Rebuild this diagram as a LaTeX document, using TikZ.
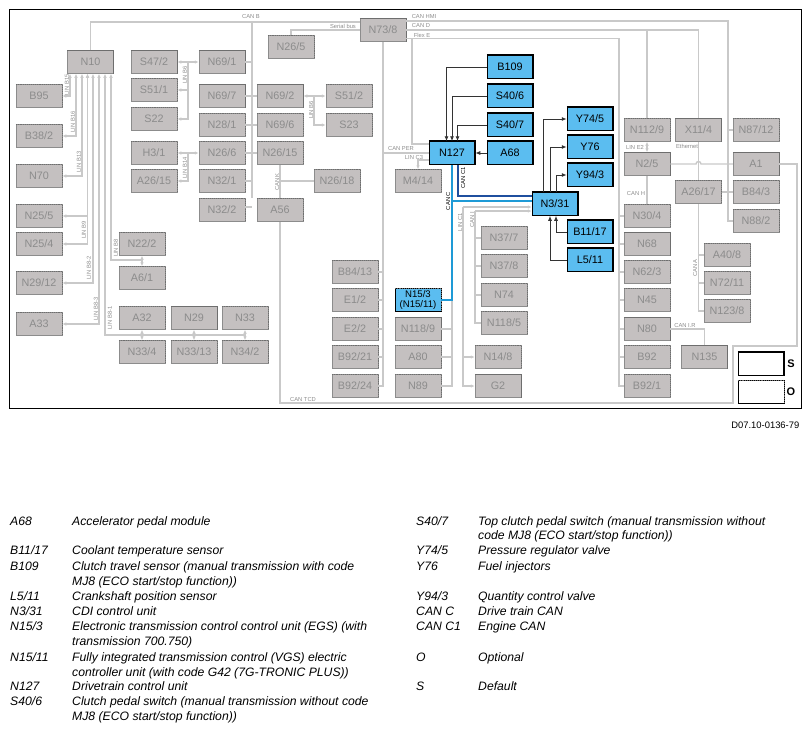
\documentclass[tikz,border=0pt]{standalone}
\usepackage{fontspec}
\setmainfont{Liberation Sans}
\usetikzlibrary{arrows.meta,positioning,calc}
\definecolor{boxgray}{HTML}{C4C0C0}
\definecolor{linegray}{HTML}{C9C9C9}
\definecolor{textgray}{HTML}{8C8C8C}
\definecolor{edgegray}{HTML}{6E6E6E}
\definecolor{busblue}{HTML}{1E9AD6}
\definecolor{busnavy}{HTML}{1F4F9E}
\definecolor{boxblue}{HTML}{5BBDF0}
\tikzset{
  gbox/.style={fill=boxgray,draw=textgray,line width=.5pt,text=textgray,minimum width=46pt,minimum height=23pt,inner sep=0pt,font=\fontsize{10.8}{9}\selectfont,align=center},
  bbox/.style={gbox,fill=boxblue,draw=black,text=black},
  wbox/.style={gbox,fill=white,draw=black},
  solidedge/.style={draw=edgegray,line width=1.3pt},
  blackedge/.style={draw=black,line width=1.6pt},
  dotedge/.style={draw=edgegray,line width=.9pt,densely dotted},
  gline/.style={draw=linegray,line width=1.4pt},
  garrow/.style={gline,-{Latex[length=4pt,width=3.5pt]}},
  gboth/.style={gline,{Latex[length=4pt,width=3.5pt]}-{Latex[length=4pt,width=3.5pt]}},
  kline/.style={draw=black!80,line width=.9pt,-{Latex[length=5pt,width=4pt]}},
  buslabel/.style={text=textgray,inner sep=0pt,font=\fontsize{5.8}{6}\selectfont},
  kbuslabel/.style={buslabel,text=black},
  legtext/.style={anchor=base west,inner sep=0pt,font=\fontsize{12.2}{13}\itshape\selectfont},
}
\begin{document}
\begin{tikzpicture}[x=1pt,y=-1pt]
\useasboundingbox (0,0) rectangle (811,731);
\draw[black,line width=1pt] (9.5,9.5) rectangle (801.5,408);
% left column
\node[gbox] (B95) at (39,96){B95};\node[gbox] (B38-2) at (39,136){B38/2};\node[gbox] (N70) at (39,176){N70};
\node[gbox] (N25-5) at (39,216){N25/5};\node[gbox] (N25-4) at (39,244){N25/4};
\node[gbox] (N29-12) at (39,283){N29/12};\node[gbox] (A33) at (39,324){A33};
\node[gbox] (N10) at (90.5,62){N10};
\node[gbox] (N22-2) at (142,244){N22/2};\node[gbox] (A6-1) at (142,278){A6/1};
\node[gbox] (A32) at (142,318){A32};\node[gbox] (N29) at (194,318){N29};\node[gbox] (N33) at (245,318){N33};
\node[gbox] (N33-4) at (142,352){N33/4};\node[gbox] (N33-13) at (194,352){N33/13};\node[gbox] (N34-2) at (245,352){N34/2};
% upper middle
\node[gbox] (S47-2) at (154,62){S47/2};\node[gbox] (S51-1) at (154,90){S51/1};\node[gbox] (S22) at (154,119){S22};
\node[gbox] (H3-1) at (154,153){H3/1};\node[gbox] (A26-15) at (154,181){A26/15};
\node[gbox] (N69-1) at (222,62){N69/1};\node[gbox] (N69-7) at (222,96){N69/7};\node[gbox] (N28-1) at (222,125){N28/1};
\node[gbox] (N26-6) at (222,153){N26/6};\node[gbox] (N32-1) at (222,181){N32/1};\node[gbox] (N32-2) at (222,210){N32/2};
\node[gbox] (N69-2) at (280,96){N69/2};\node[gbox] (N69-6) at (280,125){N69/6};\node[gbox] (N26-15) at (280,153){N26/15};
\node[gbox] (A56) at (280,210){A56};\node[gbox] (N26-5) at (291,47){N26/5};\node[gbox] (N73-8) at (383,30){N73/8};
\node[gbox] (S51-2) at (349,96){S51/2};\node[gbox] (S23) at (349,125){S23};\node[gbox] (N26-18) at (337,181){N26/18};
\node[gbox] (M4-14) at (418,181){M4/14};
\node[gbox] (B84-13) at (355,272){B84/13};\node[gbox] (E1-2) at (355,300){E1/2};\node[gbox] (E2-2) at (355,329){E2/2};
\node[gbox] (B92-21) at (355,357){B92/21};\node[gbox] (B92-24) at (355,386){B92/24};
\node[gbox] (N118-9) at (418,329){N118/9};\node[gbox] (A80) at (418,357){A80};\node[gbox] (N89) at (418,386){N89};
\node[gbox] (N37-7) at (504,238){N37/7};\node[gbox] (N37-8) at (504,266){N37/8};\node[gbox] (N74) at (504,295){N74};
\node[gbox] (N118-5) at (504,323){N118/5};\node[gbox] (N14-8) at (498,357){N14/8};\node[gbox] (G2) at (498,386){G2};
% right part
\node[gbox] (N112-9) at (647,130){N112/9};\node[gbox] (X11-4) at (698.5,130){X11/4};\node[gbox] (N87-12) at (756,130){N87/12};
\node[gbox] (N2-5) at (647,164){N2/5};\node[gbox] (A1) at (756,164){A1};
\node[gbox] (A26-17) at (698.5,192){A26/17};\node[gbox] (B84-3) at (756,192){B84/3};\node[gbox] (N88-2) at (756,221){N88/2};
\node[gbox] (N30-4) at (647,216){N30/4};\node[gbox] (N68) at (647,244){N68};\node[gbox] (N62-3) at (647,272){N62/3};
\node[gbox] (N45) at (647,300){N45};\node[gbox] (N80) at (647,329){N80};\node[gbox] (B92) at (647,357){B92};\node[gbox] (B92-1) at (647,386){B92/1};
\node[gbox] (A40-8) at (727,255){A40/8};\node[gbox] (N72-11) at (727,283){N72/11};\node[gbox] (N123-8) at (727,311){N123/8};
\node[gbox] (N135) at (704.5,357){N135};
% highlighted units
\node[bbox] (N127) at (452,153){N127};\node[bbox] (B109) at (510,67){B109};\node[bbox] (S40-6) at (510,96){S40/6};
\node[bbox] (S40-7) at (510,125){S40/7};\node[bbox] (A68) at (510,153){A68};
\node[bbox] (Y74-5) at (590,119){Y74/5};\node[bbox] (Y76) at (590,147){Y76};\node[bbox] (Y94-3) at (590,175){Y94/3};
\node[bbox] (N3-31) at (555,204){N3/31};\node[bbox] (B11-17) at (590,232){B11/17};\node[bbox] (L5-11) at (590,260){L5/11};
\node[bbox,font=\fontsize{9.6}{9.8}\selectfont] (N15-3) at (418,300){N15/3\\(N15/11)};
% key
\node[wbox] (keyS) at (761,364){};\node[wbox] (keyO) at (761,392){};
\node[inner sep=0pt,font=\fontsize{11}{12}\bfseries\selectfont] (keySt) at (791,364){S};
\node[inner sep=0pt,font=\fontsize{11}{12}\bfseries\selectfont] (keyOt) at (791,392){O};
\foreach \nd in {N10,S47-2,N69-1,N69-7,N69-2,N29,N73-8,N118-9,G2,N68,N2-5,A1,N80,X11-4,N135}
  \draw[solidedge] (\nd.north west)--(\nd.north east)--(\nd.south east);
\foreach \nd in {B95,B38-2,N70,N25-5,N25-4,N29-12,A33,N22-2,A6-1,A32,N33,N33-4,N33-13,N34-2,S51-1,S22,H3-1,A26-15,N28-1,N26-6,N32-1,N32-2,N69-6,N26-15,A56,N26-5,S51-2,S23,N26-18,M4-14,B84-13,E1-2,E2-2,B92-21,B92-24,A80,N89,N37-7,N37-8,N74,N118-5,N14-8,N112-9,N87-12,A26-17,B84-3,N88-2,N30-4,N62-3,N45,B92,B92-1,A40-8,N72-11,N123-8,N15-3,keyO}
  \draw[dotedge] (\nd.north west)--(\nd.north east)--(\nd.south east);
\foreach \nd in {N127,B109,S40-6,S40-7,A68,Y74-5,Y76,Y94-3,N3-31,B11-17,L5-11,keyS}
  \draw[blackedge] (\nd.north west)--(\nd.north east)--(\nd.south east);
% bus points
\coordinate (busB) at (252,22);\coordinate (busHmi) at (728,21);\coordinate (busD) at (699,30);\coordinate (busE) at (619,38.5);
\coordinate (busEa) at (412,38.5);\coordinate (busS) at (314,96);\coordinate (bus6) at (188,62);\coordinate (bus14) at (188,153);
\coordinate (lb8) at (142,260);\coordinate (lb81) at (245,335);
\coordinate (tcdA) at (733,403);\coordinate (tcdB) at (797,346);
\coordinate (linC) at (463,207);\coordinate (canI) at (475,211);\coordinate (busC) at (452,201);
\coordinate (hopa) at (696,164);\coordinate (busK) at (280,181);
% CAN B
\draw[gline] (N10.north) |- ([yshift=8pt]N73-8.west);
\draw[gline] (busB) -- (busB |- N32-2.north);
\foreach \nd in {N69-1,N32-1}\draw[gline] (\nd.east) -- (\nd.east -| busB);
\draw[gline] ([yshift=3pt]N32-2.east) -- ([yshift=3pt]N32-2.east -| busB);
\draw[gline] (N69-7)--(N69-2);\draw[gline] (N28-1)--(N69-6);\draw[gline] (N26-6)--(N26-15);
\draw[gline] (N73-8.west) -| (N26-5.north);
% busses to the right
\draw[gline] ([yshift=9pt]N73-8.east) -| (N88-2.west -| busHmi) -- (N88-2.west);
\draw[gline] (N73-8.east) -| (X11-4.north);\draw[gline] (N73-8.east) -| (N112-9.north);
\draw[gline] ([yshift=-8.5pt]N73-8.east) -| (busE |- B92-1.west) -- (B92-1.west);
\draw[gline] (busEa) |- ([yshift=9pt]N127.west);
\draw[gline] (N73-8.south) |- (B92-24.east);
\draw[gline] (N127.west) -- (N127.west -| N73-8.south);
\foreach \nd in {B84-13,E1-2,E2-2,B92-21}\draw[gline] (\nd.east) -- (\nd.east -| N73-8.south);
\foreach \nd in {N30-4,N68,N62-3,N45,N80,B92}\draw[gline] (\nd.west) -- (\nd.west -| busE);
\foreach \nd in {N87-12,B84-3}\draw[gline] (\nd.west) -- (\nd.west -| busHmi);
\draw[gline] (A26-17.east) -- (B84-3.west);
\draw[gline] (X11-4.south) -- (A26-17.north);
\draw[gline] (N2-5.south) -- (N30-4.north);
\draw[gline] (N2-5.east) -- (hopa) arc (180:360:2.5) -- (A1.west);
\draw[gboth] (N112-9.south) -- (N2-5.north);
\draw[gline] (A26-17.south) |- (N123-8.west);
\foreach \nd in {A40-8,N72-11}\draw[gline] (\nd.west) -- (\nd.west -| A26-17.south);
\draw[gline] (N80.east) -| (N135.north);
% CAN TCD
\draw[gline] (A56.south) |- (tcdA) |- (tcdB) |- (A1.east);
\draw[gline] (N26-15.south) -- (A56.north);\draw[gline] (busK) -- (N26-18.west);
% LIN groups
\foreach \dx/\nd in {-20.5/B95,-14.5/B38-2,-8.5/N70,-3/N25-5,-3/N25-4,2.5/N29-12,8.5/A33}
  \draw[gboth] ([xshift=\dx pt]N10.south) |- (\nd.east);
\draw[gline,{Latex[length=4pt,width=3.5pt]}-] ([xshift=14.5pt]N10.south) |- (lb81);
\draw[gline,{Latex[length=4pt,width=3.5pt]}-] ([xshift=20.5pt]N10.south) |- (lb8);
\draw[gboth] (N22-2)--(A6-1);\draw[gboth] (A32)--(N33-4);\draw[gboth] (N29)--(N33-13);\draw[gboth] (N33)--(N34-2);
\draw[gboth] (S47-2)--(N69-1);\draw[garrow] (bus6) |- (S51-1.east);\draw[garrow] (bus6) |- (S22.east);
\draw[gboth] (H3-1)--(N26-6);\draw[garrow] (bus14) |- (A26-15.east);
\draw[gboth] (N69-2)--(S51-2);\draw[garrow] (busS) |- (S23.west);
\draw[garrow] ([yshift=-7pt]N127.west) -| (M4-14.north);
% below N3/31
\draw[garrow] (linC) -- (linC -| N3-31.west);\draw[garrow] (canI) -- (canI -| N3-31.west);
\draw[garrow] (linC) |- (G2.west);\draw[garrow] (linC |- N14-8.west) -- (N14-8.west);
\draw[gline] (canI) |- (N118-5.west);
\foreach \nd in {N37-7,N37-8,N74}\draw[gline] (\nd.west) -- (\nd.west -| canI);
\draw[gline] (N15-3.east -| N127.south) |- (N89.east);
\foreach \nd in {N118-9,A80}\draw[gline] (\nd.east) -- (\nd.east -| N127.south);
% CAN C and C1
\draw[busblue,line width=1.8pt] (N127.south) |- (N15-3.east);
\draw[busblue,line width=1.8pt] (busC) -- (busC -| N3-31.west);
\draw[busnavy,line width=1.8pt] ([xshift=6pt]N127.south) |- ([yshift=8pt]N3-31.west);
% sensors and actuators
\draw[kline] (B109.west) -| ([xshift=-5.5pt]N127.north);\draw[kline] (S40-6.west) -| (N127.north);
\draw[kline] (S40-7.west) -| ([xshift=5.5pt]N127.north);\draw[kline] (A68.west) -- (N127.east);
\draw[kline] ([xshift=-12pt]N3-31.north) |- (Y74-5.west);\draw[kline] ([xshift=-5pt]N3-31.north) |- (Y76.west);
\draw[kline] ([xshift=1pt]N3-31.north) |- (Y94-3.west);
\draw[kline] (B11-17.west) -| ([xshift=1pt]N3-31.south);\draw[kline] (L5-11.west) -| ([xshift=-5pt]N3-31.south);
% bus labels
\node[buslabel] (tB) at (251,17){CAN B};\node[buslabel] (tS) at (343,26){Serial bus};\node[buslabel] (tH) at (424,17){CAN HMI};
\node[buslabel] (tD) at (421,26){CAN D};\node[buslabel] (tE) at (422,35){Flex E};\node[buslabel] (tP) at (401,149){CAN PER};
\node[buslabel] (tC3) at (414,157){LIN C3};\node[buslabel] (tT) at (303,399){CAN TCD};\node[buslabel] (tE2) at (635,147){LIN E2};
\node[buslabel] (tEth) at (687,146){Ethernet};\node[buslabel] (tCH) at (636,193){CAN H};\node[buslabel] (tLR) at (685,325){CAN I.R};
\node[kbuslabel,rotate=90] (tC1) at (463,178){CAN C1};\node[kbuslabel,rotate=90] (tC) at (448,201){CAN C};
\foreach \xx/\yy/\tt in {460/222/LIN C1,472/220/CAN I,277/182/CAN K,311/110/LIN B6,185/75/LIN B6,185/168/LIN B14,67/85/LIN B15,73/122/LIN B16,79/162/LIN B13,84/230/LIN B9,89/268/LIN B8-2,96/309/LIN B8-3,110/318/LIN B8-1,116/248/LIN B8,695/268/CAN A}
  \node[buslabel,rotate=90] (t\xx) at (\xx,\yy){\tt};
\node[inner sep=0pt,anchor=east,font=\fontsize{9.4}{10}\selectfont] (docref) at (799.5,425){D07.10-0136-79};
% legend
\foreach \yy/\kk/\dd [count=\i] in {525/A68/Accelerator pedal module,554/B11{/}17/Coolant temperature sensor,570/B109/Clutch travel sensor (manual transmission with code,585//MJ8 (ECO start{/}stop function)),600/L5{/}11/Crankshaft position sensor,615/N3{/}31/CDI control unit,630/N15{/}3/Electronic transmission control control unit (EGS) (with,645//transmission 700.750),661/N15{/}11/Fully integrated transmission control (VGS) electric,676//controller unit (with code G42 (7G-TRONIC PLUS)),690/N127/Drivetrain control unit,705/S40{/}6/Clutch pedal switch (manual transmission without code,720//MJ8 (ECO start{/}stop function))}
  {\node[legtext] (lk\i) at (10,\yy){\kk};\node[legtext] (ld\i) at (72,\yy){\dd};}
\foreach \yy/\kk/\dd [count=\i] in {525/S40{/}7/Top clutch pedal switch (manual transmission without,539//code MJ8 (ECO start{/}stop function)),554/Y74{/}5/Pressure regulator valve,570/Y76/Fuel injectors,600/Y94{/}3/Quantity control valve,615/CAN C/Drive train CAN,630/CAN C1/Engine CAN,661/O/Optional,690/S/Default}
  {\node[legtext] (rk\i) at (416,\yy){\kk};\node[legtext] (rd\i) at (478,\yy){\dd};}
\end{tikzpicture}
\end{document}
